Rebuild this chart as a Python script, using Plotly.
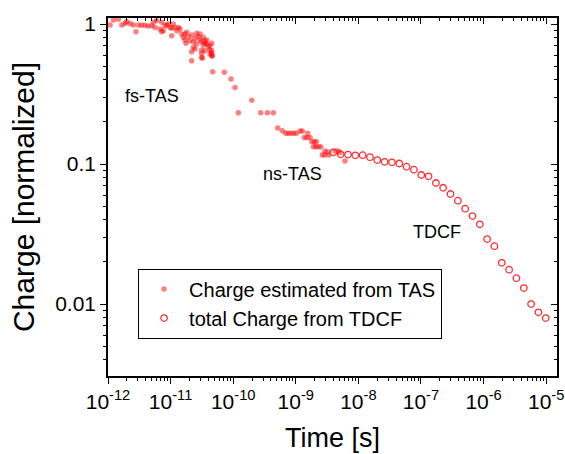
import plotly.graph_objects as go

# ---- data ----
tas_time = [1.08e-12, 1.22e-12, 1.46e-12, 1.66e-12, 1.87e-12, 1.99e-12, 2.25e-12, 2.54e-12, 2.80e-12, 3.05e-12,
            3.45e-12, 3.90e-12, 4.40e-12, 4.99e-12, 5.30e-12, 5.64e-12, 6.00e-12, 6.77e-12, 7.21e-12, 7.21e-12,
            7.64e-12, 8.14e-12, 8.66e-12, 9.19e-12, 9.78e-12, 1.04e-11, 1.04e-11, 1.10e-11, 1.17e-11, 1.25e-11,
            1.33e-11, 1.41e-11, 1.50e-11, 1.60e-11, 1.70e-11, 1.70e-11, 1.81e-11, 1.76e-11, 1.92e-11, 2.04e-11,
            2.17e-11, 2.17e-11, 2.17e-11, 2.31e-11, 2.31e-11, 2.45e-11, 2.45e-11, 2.61e-11, 2.61e-11, 2.77e-11,
            2.95e-11, 2.95e-11, 3.14e-11, 3.14e-11, 3.14e-11, 3.14e-11, 3.21e-11, 3.33e-11, 3.33e-11, 3.55e-11,
            3.55e-11, 3.55e-11, 3.78e-11, 3.78e-11, 4.00e-11, 4.26e-11, 4.26e-11, 4.26e-11, 4.54e-11, 4.54e-11,
            4.54e-11, 4.54e-11, 4.64e-11, 4.69e-11, 7.21e-11, 9.23e-11, 1.07e-10, 1.98e-10, 1.21e-10, 2.75e-10,
            3.51e-10, 4.38e-10, 5.14e-10, 6.09e-10, 6.90e-10, 7.59e-10, 8.38e-10, 9.25e-10, 1.02e-9, 1.17e-9,
            1.27e-9, 1.37e-9, 1.51e-9, 1.55e-9, 1.69e-9, 1.80e-9, 1.98e-9, 2.13e-9, 1.91e-9, 2.08e-9,
            2.29e-9, 2.50e-9, 2.65e-9, 2.92e-9, 2.92e-9, 3.23e-9, 3.39e-9, 4.23e-9, 4.78e-9, 5.08e-9, 6.11e-9]
tas_charge = [0.984, 1.07, 1.08, 0.984, 1.01, 1.04, 1.01, 0.984, 0.881, 0.984,
              0.979, 0.979, 0.968, 0.973, 1.03, 0.946, 1.06, 0.920, 1.03, 0.881,
              0.895, 0.973, 0.984, 1.0, 0.946, 0.824, 0.931, 1.0, 0.946, 0.895,
              0.946, 0.920, 0.849, 0.803, 0.849, 0.769, 0.873, 0.728, 0.811, 0.760,
              0.834, 0.634, 0.547, 0.748, 0.682, 0.791, 0.662, 0.859, 0.719, 0.811,
              0.769, 0.849, 0.748, 0.652, 0.618, 0.578, 0.569, 0.708, 0.803, 0.728,
              0.760, 0.644, 0.769, 0.719, 0.689, 0.652, 0.700, 0.611, 0.728, 0.644,
              0.618, 0.594, 0.590, 0.456, 0.452, 0.405, 0.352, 0.286, 0.232, 0.232,
              0.232, 0.232, 0.181, 0.173, 0.166, 0.166, 0.166, 0.166, 0.166, 0.172,
              0.172, 0.155, 0.155, 0.166, 0.155, 0.144, 0.144, 0.144, 0.133, 0.133,
              0.133, 0.133, 0.116, 0.124, 0.116, 0.122, 0.116, 0.124, 0.124, 0.121, 0.105]

tdcf_time = [3.98e-9, 5.21e-9, 6.82e-9, 8.93e-9, 1.17e-8, 1.53e-8, 2.00e-8, 2.62e-8, 3.44e-8, 4.50e-8,
             5.89e-8, 7.71e-8, 1.01e-7, 1.32e-7, 1.73e-7, 2.26e-7, 2.96e-7, 3.88e-7, 5.08e-7, 6.65e-7,
             8.71e-7, 1.14e-6, 1.49e-6, 1.95e-6, 2.56e-6, 3.35e-6, 4.39e-6, 5.74e-6, 7.52e-6, 9.84e-6]
tdcf_charge = [0.1213, 0.1173, 0.1169, 0.1154, 0.1156, 0.1119, 0.1068, 0.1037, 0.1028, 0.1009,
               0.0957, 0.0911, 0.0835, 0.0817, 0.0732, 0.0677, 0.0611, 0.0547, 0.0480, 0.0425,
               0.0371, 0.0291, 0.0259, 0.0197, 0.0176, 0.0153, 0.0130, 0.0100, 0.00873, 0.00794]

x_tickvals = [1e-12, 1e-11, 1e-10, 1e-9, 1e-8, 1e-7, 1e-6, 1e-5]
x_ticktext = ["10<sup>-12</sup>", "10<sup>-11</sup>", "10<sup>-10</sup>", "10<sup>-9</sup>",
              "10<sup>-8</sup>", "10<sup>-7</sup>", "10<sup>-6</sup>", "10<sup>-5</sup>"]
y_tickvals = [0.01, 0.1, 1]
y_ticktext = ["0.01", "0.1", "1"]

labels = [("fs-TAS", 0.098, 0.782), ("ns-TAS", 0.410, 0.564), ("TDCF", 0.733, 0.402)]

FONT = "Liberation Sans, Arial, sans-serif"
XR = [-12, -4.827]
YR = [-2.514, 0.043]

x_minor = [m * 10.0 ** e for e in range(-12, -4) for m in range(2, 10)]
y_minor = [m * 10.0 ** e for e in range(-3, 1) for m in range(2, 10)]

fig = go.Figure()
fig.add_trace(go.Scatter(
    x=tas_time, y=tas_charge, mode="markers", name="Charge estimated from TAS",
    marker=dict(symbol="circle", size=5.5, color="rgba(255,0,0,0.5)", line=dict(width=0)),
))
fig.add_trace(go.Scatter(
    x=tdcf_time, y=tdcf_charge, mode="markers", name="total Charge from TDCF",
    marker=dict(symbol="circle-open", size=6.5, color="#ff2a2a", line=dict(width=1.3, color="#ff2a2a")),
))

axis_common = dict(showgrid=False, zeroline=False, showline=True, linecolor="black", linewidth=1.6,
                   type="log", automargin=False)

fig.update_layout(
    width=565, height=454,
    margin=dict(l=108, r=8, t=18, b=78),
    plot_bgcolor="white", paper_bgcolor="white",
    font=dict(family=FONT, color="black"),
    xaxis=dict(**axis_common, range=XR, tickmode="array", tickvals=x_tickvals, ticktext=x_ticktext,
               ticks="outside", ticklen=6, tickwidth=1.3, tickcolor="black",
               tickfont=dict(size=21, family=FONT),
               minor=dict(tickmode="array", tickvals=x_minor, ticks="outside", ticklen=3, tickwidth=1,
                          tickcolor="black", showgrid=False),
               title=dict(text="Time [s]", font=dict(size=27, family=FONT), standoff=16)),
    yaxis=dict(**axis_common, range=YR, tickmode="array", tickvals=y_tickvals, ticktext=y_ticktext,
               ticks="outside", ticklen=6, tickwidth=1.3, tickcolor="black",
               tickfont=dict(size=21, family=FONT),
               minor=dict(tickmode="array", tickvals=y_minor, ticks="outside", ticklen=3, tickwidth=1,
                          tickcolor="black", showgrid=False),
               title=dict(text="Charge [normalized]", font=dict(size=30, family=FONT), standoff=12)),
    xaxis2=dict(**axis_common, range=XR, overlaying="x", side="top", anchor="y",
                tickmode="array", tickvals=x_tickvals, showticklabels=False,
                ticks="inside", ticklen=6, tickwidth=1.3, tickcolor="black",
                minor=dict(tickmode="array", tickvals=x_minor, ticks="inside", ticklen=3, tickwidth=1,
                           tickcolor="black", showgrid=False)),
    yaxis2=dict(**axis_common, range=YR, overlaying="y", side="right", anchor="x",
                tickmode="array", tickvals=y_tickvals, showticklabels=False,
                ticks="inside", ticklen=6, tickwidth=1.3, tickcolor="black",
                minor=dict(tickmode="array", tickvals=y_minor, ticks="inside", ticklen=3, tickwidth=1,
                           tickcolor="black", showgrid=False)),
    legend=dict(x=0.067, y=0.300, xanchor="left", yanchor="top",
                bgcolor="white", bordercolor="black", borderwidth=1,
                font=dict(size=20, family=FONT), itemsizing="trace", itemwidth=40, tracegroupgap=0),
    showlegend=True,
)

# invisible trace so the overlay (mirror) axes render
fig.add_trace(go.Scatter(x=[1e-9], y=[0.1], xaxis="x2", yaxis="y2", mode="markers",
                         marker=dict(opacity=0), showlegend=False, hoverinfo="skip"))

for text, px, py in labels:
    fig.add_annotation(text=text, x=px, y=py, xref="paper", yref="paper", showarrow=False,
                       xanchor="center", yanchor="middle",
                       font=dict(size=18, family=FONT, color="black"))

fig.write_html("out.html")
